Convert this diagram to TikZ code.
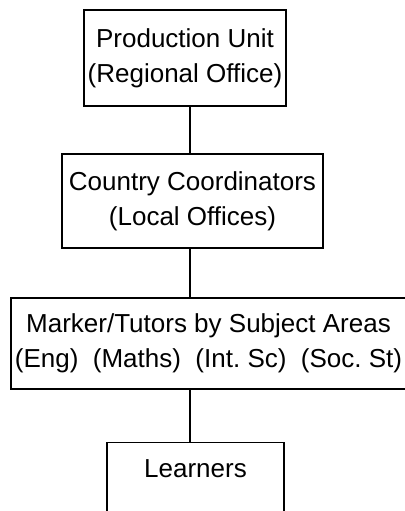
\documentclass[tikz,border=0pt]{standalone}
\usepackage{fontspec}
\setmainfont{Liberation Sans}
\usepackage{tikz}

\begin{document}
\begin{tikzpicture}[x=1pt,y=-1pt,
	unitbox/.style={draw,line width=1.4pt,align=center,inner sep=0pt,
		font=\fontsize{26}{35}\selectfont},
	link/.style={line width=1.4pt}]

	\useasboundingbox (0,0) rectangle (404,511);

	\node[unitbox,minimum width=202pt,minimum height=96pt] (prod) at (185,58)
		{Production Unit\\(Regional Office)};
	\node[unitbox,minimum width=261pt,minimum height=94pt] (coord) at (192.5,201)
		{Country Coordinators\\(Local Offices)};
	\node[unitbox,minimum width=395pt,minimum height=91pt] (tutors) at (208.5,343.5)
		{Marker/Tutors by Subject Areas\\(Eng)\ \ (Maths)\ \ (Int.\ Sc)\ \ (Soc.\ St)};
	\node[unitbox,anchor=north,minimum width=177pt,text height=25pt,text depth=60pt,
		inner ysep=10pt] (learn) at (195.5,442) {Learners};

	\coordinate (spine) at (190,0);
	\draw[link] (spine |- prod.south) -- (spine |- coord.north);
	\draw[link] (spine |- coord.south) -- (spine |- tutors.north);
	\draw[link] (spine |- tutors.south) -- (spine |- learn.north);
%	\draw[link] (learn.south) -- ++(0,20);

\end{tikzpicture}
\end{document}
